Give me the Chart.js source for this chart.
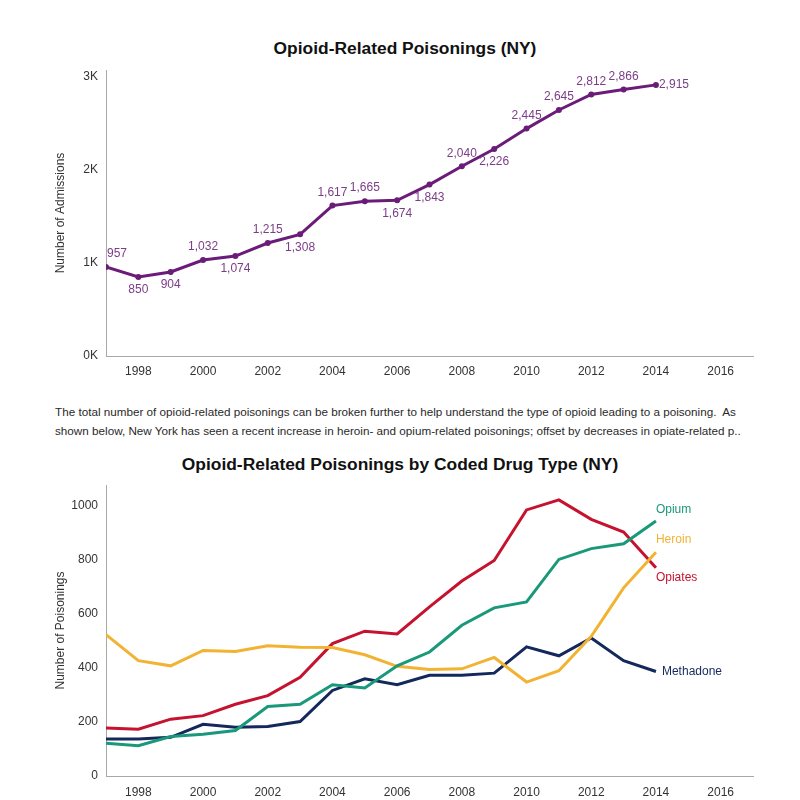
<!DOCTYPE html>
<html>
<head>
<meta charset="utf-8">
<title>Opioid-Related Poisonings (NY)</title>
<script src="https://cdn.jsdelivr.net/npm/chart.js@4.4.1/dist/chart.umd.min.js"></script>
<style>
  html, body { margin: 0; padding: 0; background: #fff; }
  body { width: 800px; height: 800px; position: relative; overflow: hidden; font-family: "Liberation Sans", Arial, sans-serif; }
  #box1 { position: absolute; left: 0; top: 0; width: 800px; height: 390px; }
  #box2 { position: absolute; left: 0; top: 440px; width: 800px; height: 360px; }
  .title { position: absolute; width: 800px; text-align: center; font-size: 17.4px; font-weight: bold; color: #111; line-height: 20px; }
  #note { position: absolute; left: 55px; top: 402px; margin: 0; font-size: 11.7px; line-height: 19px; color: #2a2a2a; white-space: nowrap; }
</style>
</head>
<body>
<div class="title" style="left:5px; top:38px">Opioid-Related Poisonings (NY)</div>
<div id="box1"><canvas id="admissions"></canvas></div>
<p id="note">The total number of opioid-related poisonings can be broken further to help understand the type of opioid leading to a poisoning.&nbsp; As<br>shown below, New York has seen a recent increase in heroin- and opium-related poisonings; offset by decreases in opiate-related p..</p>
<div class="title" style="left:0px; top:454px">Opioid-Related Poisonings by Coded Drug Type (NY)</div>
<div id="box2"><canvas id="drugType"></canvas></div>
<script>
// data
var years = [1997, 1998, 1999, 2000, 2001, 2002, 2003, 2004, 2005, 2006, 2007, 2008, 2009, 2010, 2011, 2012, 2013, 2014];
var admissions = [957, 850, 904, 1032, 1074, 1215, 1308, 1617, 1665, 1674, 1843, 2040, 2226, 2445, 2645, 2812, 2866, 2915];

var opium     = [121, 112, 146, 154, 168, 257, 265, 337, 325, 407, 458, 557, 621, 643, 800, 840, 858, 942];
var heroin    = [522, 426, 407, 464, 460, 481, 476, 475, 448, 405, 393, 396, 438, 347, 389, 516, 695, 827];
var opiates   = [177, 173, 210, 223, 265, 297, 365, 489, 535, 525, 625, 720, 796, 983, 1020, 948, 901, 769];
var methadone = [137, 137, 143, 191, 180, 183, 201, 316, 359, 337, 372, 372, 380, 477, 444, 510, 426, 386];

var yearTicks = [1998, 2000, 2002, 2004, 2006, 2008, 2010, 2012, 2014, 2016];
var admissionTicks = [0, 1000, 2000, 3000];
var poisoningTicks = [0, 200, 400, 600, 800, 1000];

var FONT = '"Liberation Sans", Arial, sans-serif';
var PURPLE = '#6b1b78';

function toPoints(vals) {
    return vals.map(function(v, i){ return {x: years[i], y: v}; });
}
function setTicks(list) {
    return function(scale){ scale.ticks = list.map(function(v){ return {value: v}; }); };
}

/* where each value label sits round its point */
var labelPlace = ['aboveRight','below','below','above','below','above','below','above','above',
                  'below','below','above','below','above','above','above','above','right'];

var valueLabels = {
    id: 'valueLabels',
    afterDatasetsDraw: function(chart){
        var ctx = chart.ctx;
        var meta = chart.getDatasetMeta(0);
        ctx.save();
        ctx.font = '12px ' + FONT;
        ctx.fillStyle = '#7b3d86';
        ctx.textBaseline = 'middle';
        meta.data.forEach(function(pt, i){
            var txt = admissions[i].toLocaleString('en-US');
            var p = labelPlace[i];
            if (p === 'right') {
                ctx.textAlign = 'left';
                ctx.fillText(txt, pt.x + 3, pt.y);
            } else if (p === 'aboveRight') {
                ctx.textAlign = 'left';
                ctx.fillText(txt, pt.x + 1, pt.y - 13);
            } else {
                ctx.textAlign = 'center';
                ctx.fillText(txt, pt.x, p === 'above' ? pt.y - 13 : pt.y + 13);
            }
        });
        ctx.restore();
    }
};

/* series names at the end of each line */
var endOffsets = [[0, -11], [0, -12], [0, 10], [6, 0]];
var seriesNames = {
    id: 'seriesNames',
    afterDatasetsDraw: function(chart){
        var ctx = chart.ctx;
        ctx.save();
        ctx.font = '12px ' + FONT;
        ctx.textAlign = 'left';
        ctx.textBaseline = 'middle';
        chart.data.datasets.forEach(function(ds, d){
            var meta = chart.getDatasetMeta(d);
            var last = meta.data[meta.data.length - 1];
            ctx.fillStyle = ds.borderColor;
            ctx.fillText(ds.label, last.x + endOffsets[d][0], last.y + endOffsets[d][1]);
        });
        ctx.restore();
    }
};

function xAxis(height, pad) {
    return {
        type: 'linear', min: 1997, max: 2017,
        afterBuildTicks: setTicks(yearTicks),
        afterFit: function(s){ s.height = height; },
        grid: { color: 'rgba(0,0,0,0)', drawTicks: false },
        border: { color: '#a8a8a8', width: 1 },
        ticks: { color: '#333', padding: pad, font: { size: 12, family: FONT }, callback: function(v){ return String(v); } }
    };
}
function yAxis(title, list, max, fmt) {
    return {
        min: 0, max: max,
        afterBuildTicks: setTicks(list),
        afterFit: function(s){ s.width = 106; },
        grid: { color: 'rgba(0,0,0,0)', drawTicks: false },
        border: { color: '#a8a8a8', width: 1 },
        ticks: { color: '#333', padding: 8, font: { size: 12, family: FONT }, callback: fmt },
        title: { display: true, text: title, color: '#333', padding: { top: 53, bottom: 0 }, font: { size: 12, family: FONT } }
    };
}

Chart.defaults.font.family = FONT;
Chart.defaults.animation = false;

/* Chart 1 */
new Chart(document.getElementById('admissions'), {
    type: 'line',
    data: {
        datasets: [{
            label: 'Admissions',
            data: toPoints(admissions),
            borderColor: PURPLE,
            backgroundColor: PURPLE,
            borderWidth: 3,
            pointRadius: 3,
            pointBackgroundColor: PURPLE,
            pointBorderWidth: 0,
            tension: 0
        }]
    },
    options: {
        responsive: true,
        maintainAspectRatio: false,
        layout: { padding: { left: 0, right: 47, top: 70, bottom: 0 } },
        plugins: {
            legend: { display: false },
            tooltip: { enabled: false },
            title: { display: false }
        },
        scales: {
            x: xAxis(34, 8),
            y: yAxis('Number of Admissions', admissionTicks, 3075, function(v){ return (v / 1000) + 'K'; })
        }
    },
    plugins: [valueLabels]
});

/* Chart 2 */
function series(name, vals, color) {
    return { label: name, data: toPoints(vals), borderColor: color, borderWidth: 3, pointRadius: 0, tension: 0, fill: false };
}
new Chart(document.getElementById('drugType'), {
    type: 'line',
    data: {
        datasets: [
            series('Opium', opium, '#1a987a'),
            series('Heroin', heroin, '#f2b332'),
            series('Opiates', opiates, '#c5132f'),
            series('Methadone', methadone, '#13295b')
        ]
    },
    options: {
        responsive: true,
        maintainAspectRatio: false,
        layout: { padding: { left: 0, right: 47, top: 45, bottom: 0 } },
        plugins: {
            legend: { display: false },
            tooltip: { enabled: false },
            title: { display: false }
        },
        scales: {
            x: xAxis(24, 9),
            y: yAxis('Number of Poisonings', poisoningTicks, 1075, function(v){ return String(v); })
        }
    },
    plugins: [seriesNames]
});
</script>
</body>
</html>
